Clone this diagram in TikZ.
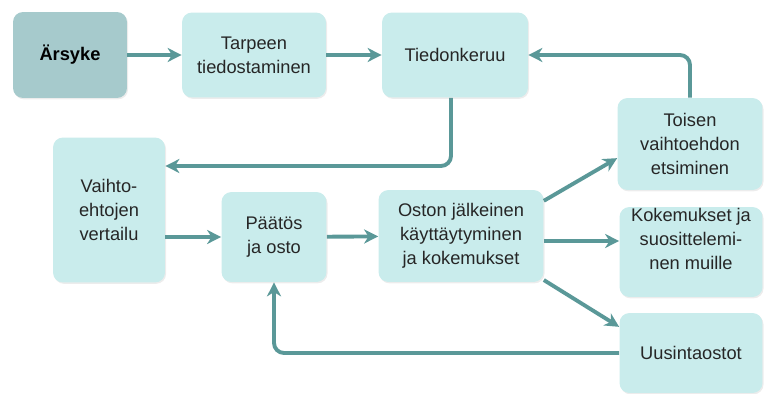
\documentclass[tikz,border=0pt]{standalone}
\usepackage{fontspec}
\setmainfont{Liberation Sans}
\usetikzlibrary{arrows.meta,shadows}

\definecolor{boxfill}{HTML}{C9ECEC}
\definecolor{startfill}{HTML}{A6CACC}
\definecolor{linkcol}{HTML}{5A9898}
\definecolor{textcol}{HTML}{262626}

\tikzset{
  box/.style={draw=none, fill=boxfill, rounded corners=0.2cm, align=center,
    inner sep=0pt, text=textcol,
    font=\fontsize{10.4}{13.6}\selectfont,
    drop shadow={shadow xshift=0.6pt, shadow yshift=-0.8pt, opacity=0.15}},
  link/.style={draw=linkcol, line width=2.2pt, rounded corners=0.2cm,
    -{Stealth[length=8pt, width=8pt, inset=2.5pt]}}
}

\begin{document}
\begin{tikzpicture}[x=0.02cm, y=-0.02cm]
          \useasboundingbox (0,0) rectangle (765,394);
          \node [box, fill=startfill, text=black, minimum width=2.28cm, minimum height=1.72cm] (ars) at (70, 55) {\textbf{Ärsyke}};
          \node [box, minimum width=2.88cm, minimum height=1.70cm] (tarp) at (254, 55) {Tarpeen\\tiedostaminen};
          \node [box, minimum width=2.92cm, minimum height=1.70cm] (tied) at (455, 55) {Tiedonkeruu};
          \node [box, minimum width=2.90cm, minimum height=1.84cm] (toisen) at (690, 144) {Toisen\\vaihtoehdon\\etsiminen};
          \node [box, minimum width=2.24cm, minimum height=2.90cm] (vert) at (109, 210) {Vaihto-\\ehtojen\\vertailu};
          \node [box, minimum width=2.10cm, minimum height=1.80cm] (paat) at (274, 237) {Päätös\\ja osto};
          \node [box, minimum width=3.30cm, minimum height=1.84cm] (oston) at (461, 236) {Oston jälkeinen\\käyttäytyminen\\ja kokemukset};
          \node [box, minimum width=2.86cm, minimum height=1.80cm] (koke) at (691, 252)
            {\raisebox{0.22cm}[\height][\depth]{\begin{tabular}{@{}c@{}}Kokemukset ja\\suosittelemi-\\nen muille\end{tabular}}};
          \node [box, minimum width=2.86cm, minimum height=1.60cm] (uus) at (691, 353) {Uusintaostot};
          \draw [link] (ars) -- (tarp);
          \draw [link] (tarp) -- (tied);
          \draw [link] (toisen.north) |- (tied.east);
          \draw [link] ([xshift=-0.08cm]tied.south) |- ([yshift=0.88cm]vert.east);
          \draw [link] (paat.west -| vert.east) -- (paat.west);
          \draw [link] (paat) -- (oston);
          \draw [link] ([yshift=-0.1cm]oston.east) -- ([yshift=-0.1cm]koke.west |- oston.east);
          \draw [link] (oston.23) -- (toisen.191);
          \draw [link] (oston.-28) -- (uus.160);
          \draw [link] (uus.west) -| (paat.south);
  \end{tikzpicture}
\end{document}
